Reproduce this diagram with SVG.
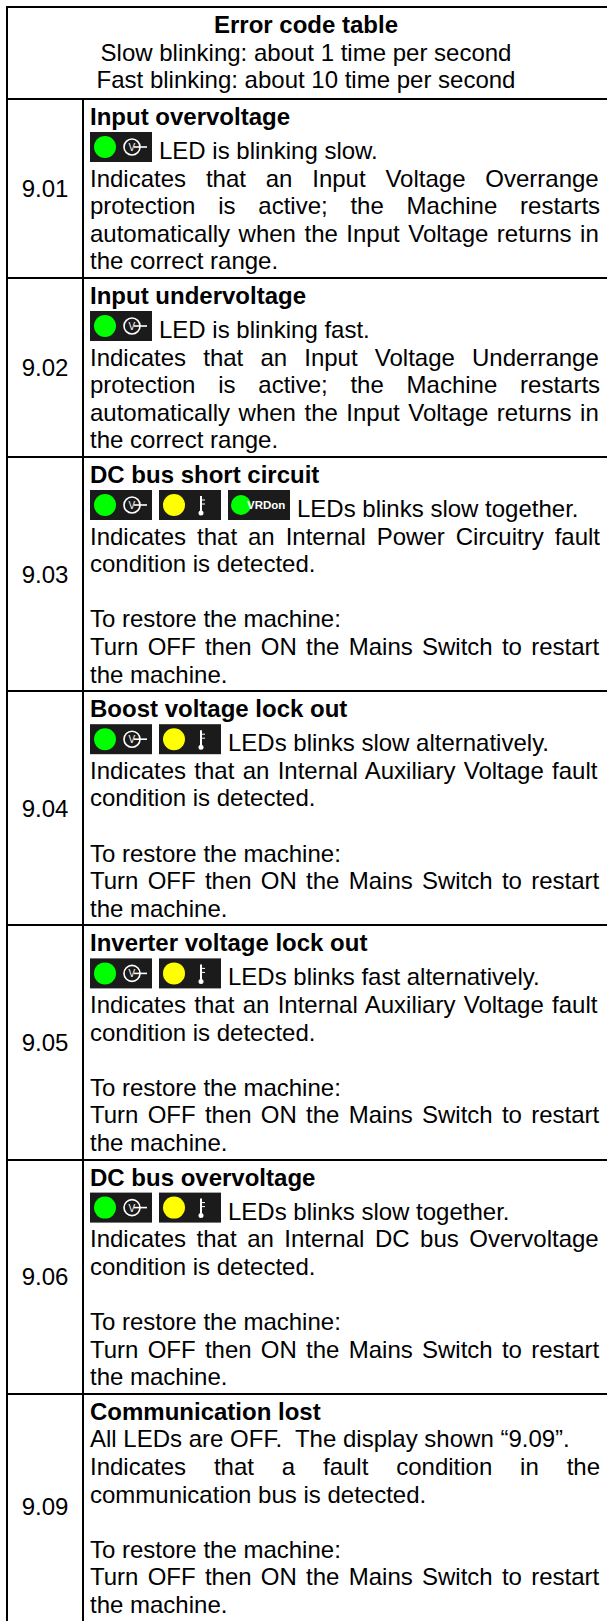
<svg xmlns="http://www.w3.org/2000/svg" xmlns:xlink="http://www.w3.org/1999/xlink" width="607" height="1621" viewBox="0 0 607 1621">
<style>
.t{font-family:"Liberation Sans",Arial,sans-serif;font-size:24px;fill:#000}
.b{font-weight:bold}
.c{text-anchor:middle}
.g{stroke:#000;stroke-width:2;fill:none}
.ib{fill:#1b1b1b}
.w{stroke:#fff;fill:none}
.it{font-family:"Liberation Sans",Arial,sans-serif;fill:#fff}
</style>
<defs>
<g id="iconV">
<rect class="ib" x="0" y="0" width="62" height="30"/>
<circle cx="15" cy="15" r="11" fill="#00ff00"/>
<circle class="w" cx="42" cy="15" r="8" stroke-width="1.6"/>
<text class="it" x="38.5" y="19" font-size="10">V</text>
<line class="w" x1="44" y1="15" x2="57" y2="15" stroke-width="1.6"/>
</g>
<g id="iconT">
<rect class="ib" x="0" y="0" width="62" height="30"/>
<circle cx="15" cy="15" r="11" fill="#ffff00"/>
<line class="w" x1="42" y1="6" x2="42" y2="21" stroke-width="2"/>
<circle cx="42" cy="23" r="2.5" fill="#fff"/>
<line class="w" x1="43" y1="10" x2="46" y2="10" stroke-width="1"/>
<line class="w" x1="43" y1="14" x2="46" y2="14" stroke-width="1"/>
</g>
<g id="iconVRD">
<rect class="ib" x="0" y="0" width="62" height="30"/>
<circle cx="13" cy="15" r="10" fill="#00ff00"/>
<text class="it" x="19" y="19" font-size="11.5" font-weight="bold">VRDon</text>
</g>
</defs>
<rect x="0" y="0" width="607" height="1621" fill="#fff"/>
<g id="grid">
<line class="g" x1="7" y1="7" x2="607" y2="7"/>
<line class="g" x1="7" y1="6" x2="7" y2="1621"/>
<line class="g" x1="7" y1="99" x2="607" y2="99"/>
<line class="g" x1="83" y1="99" x2="83" y2="1621"/>
<line class="g" x1="7" y1="278" x2="607" y2="278"/>
<line class="g" x1="7" y1="457" x2="607" y2="457"/>
<line class="g" x1="7" y1="691" x2="607" y2="691"/>
<line class="g" x1="7" y1="925" x2="607" y2="925"/>
<line class="g" x1="7" y1="1160" x2="607" y2="1160"/>
<line class="g" x1="7" y1="1394" x2="607" y2="1394"/>
</g>
<g id="header">
<text class="t b c" x="306" y="33">Error code table</text>
<text class="t c" x="306" y="60.6">Slow blinking: about 1 time per second</text>
<text class="t c" x="306" y="88.2">Fast blinking: about 10 time per second</text>
</g>
<g id="row-901">
<text class="t c" x="45" y="197">9.01</text>
<text class="t b" x="90" y="125">Input overvoltage</text>
<use xlink:href="#iconV" x="90" y="132"/>
<text class="t" x="159" y="159">LED is blinking slow.</text>
<text class="t" x="90" y="186.6" word-spacing="13.15">Indicates that an Input Voltage Overrange</text>
<text class="t" x="90" y="214.2" word-spacing="16.11">protection is active; the Machine restarts</text>
<text class="t" x="90" y="241.8" word-spacing="1.85">automatically when the Input Voltage returns in</text>
<text class="t" x="90" y="269.4">the correct range.</text>
</g>
<g id="row-902">
<text class="t c" x="45" y="376">9.02</text>
<text class="t b" x="90" y="304">Input undervoltage</text>
<use xlink:href="#iconV" x="90" y="311"/>
<text class="t" x="159" y="338">LED is blinking fast.</text>
<text class="t" x="90" y="365.6" word-spacing="10.49">Indicates that an Input Voltage Underrange</text>
<text class="t" x="90" y="393.2" word-spacing="16.11">protection is active; the Machine restarts</text>
<text class="t" x="90" y="420.8" word-spacing="1.85">automatically when the Input Voltage returns in</text>
<text class="t" x="90" y="448.4">the correct range.</text>
</g>
<g id="row-903">
<text class="t c" x="45" y="582.7">9.03</text>
<text class="t b" x="90" y="483">DC bus short circuit</text>
<use xlink:href="#iconV" x="90" y="490"/>
<use xlink:href="#iconT" x="159" y="490"/>
<use xlink:href="#iconVRD" x="228" y="490"/>
<text class="t" x="297" y="517">LEDs blinks slow together.</text>
<text class="t" x="90" y="544.6" word-spacing="4.30">Indicates that an Internal Power Circuitry fault</text>
<text class="t" x="90" y="572.2">condition is detected.</text>
<text class="t" x="90" y="627.4">To restore the machine:</text>
<text class="t" x="90" y="655" word-spacing="2.57">Turn OFF then ON the Mains Switch to restart</text>
<text class="t" x="90" y="682.6">the machine.</text>
</g>
<g id="row-904">
<text class="t c" x="45" y="816.9">9.04</text>
<text class="t b" x="90" y="717.2">Boost voltage lock out</text>
<use xlink:href="#iconV" x="90" y="724.2"/>
<use xlink:href="#iconT" x="159" y="724.2"/>
<text class="t" x="228" y="751.2">LEDs blinks slow alternatively.</text>
<text class="t" x="90" y="778.8" word-spacing="1.63">Indicates that an Internal Auxiliary Voltage fault</text>
<text class="t" x="90" y="806.4">condition is detected.</text>
<text class="t" x="90" y="861.6">To restore the machine:</text>
<text class="t" x="90" y="889.2" word-spacing="2.57">Turn OFF then ON the Mains Switch to restart</text>
<text class="t" x="90" y="916.8">the machine.</text>
</g>
<g id="row-905">
<text class="t c" x="45" y="1051.1">9.05</text>
<text class="t b" x="90" y="951.4">Inverter voltage lock out</text>
<use xlink:href="#iconV" x="90" y="958.4"/>
<use xlink:href="#iconT" x="159" y="958.4"/>
<text class="t" x="228" y="985.4">LEDs blinks fast alternatively.</text>
<text class="t" x="90" y="1013" word-spacing="1.63">Indicates that an Internal Auxiliary Voltage fault</text>
<text class="t" x="90" y="1040.6">condition is detected.</text>
<text class="t" x="90" y="1095.8">To restore the machine:</text>
<text class="t" x="90" y="1123.4" word-spacing="2.57">Turn OFF then ON the Mains Switch to restart</text>
<text class="t" x="90" y="1151">the machine.</text>
</g>
<g id="row-906">
<text class="t c" x="45" y="1285.3">9.06</text>
<text class="t b" x="90" y="1185.6">DC bus overvoltage</text>
<use xlink:href="#iconV" x="90" y="1192.6"/>
<use xlink:href="#iconT" x="159" y="1192.6"/>
<text class="t" x="228" y="1219.6">LEDs blinks slow together.</text>
<text class="t" x="90" y="1247.2" word-spacing="3.85">Indicates that an Internal DC bus Overvoltage</text>
<text class="t" x="90" y="1274.8">condition is detected.</text>
<text class="t" x="90" y="1330">To restore the machine:</text>
<text class="t" x="90" y="1357.6" word-spacing="2.57">Turn OFF then ON the Mains Switch to restart</text>
<text class="t" x="90" y="1385.2">the machine.</text>
</g>
<g id="row-909">
<text class="t c" x="45" y="1515">9.09</text>
<text class="t b" x="90" y="1419.8">Communication lost</text>
<text class="t" x="90" y="1447.4" xml:space="preserve">All LEDs are OFF.  The display shown “9.09”.</text>
<text class="t" x="90" y="1475" word-spacing="21.18">Indicates that a fault condition in the</text>
<text class="t" x="90" y="1502.6">communication bus is detected.</text>
<text class="t" x="90" y="1557.8">To restore the machine:</text>
<text class="t" x="90" y="1585.4" word-spacing="2.57">Turn OFF then ON the Mains Switch to restart</text>
<text class="t" x="90" y="1613">the machine.</text>
</g>
</svg>
